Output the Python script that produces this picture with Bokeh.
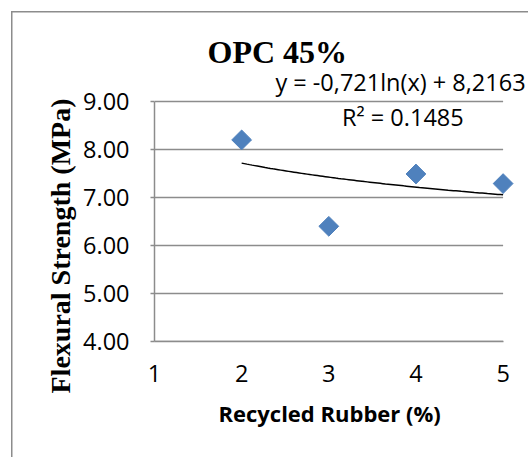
import math
from bokeh.plotting import figure
from bokeh.models import (ColumnDataSource, Label, FixedTicker, NumeralTickFormatter, Title)
from bokeh.embed import file_html
from bokeh.resources import INLINE

# Flexural strength of OPC 45% mixes against recycled rubber content
rubber_pct = [2, 3, 4, 5]
flexural_mpa = [8.20, 6.40, 7.49, 7.29]

# Logarithmic trendline y = a*ln(x) + b
trend_a = -0.721
trend_b = 8.2163
r_squared = 0.1485

x_ticks = [1, 2, 3, 4, 5]
y_ticks = [4, 5, 6, 7, 8, 9]

title_text = "OPC 45%"
x_title = "Recycled Rubber (%)"
y_title = "Flexural Strength (MPa)"
eq_text = "y = -0,721ln(x) + 8,2163"
r2_text = "R\u00b2 = " + f"{r_squared:.4f}"

GRID = "#8c8c8c"
BLUE = "#4f81bd"
SANS = "Open Sans"
SERIF = "Liberation Serif"

W, H = 528, 457
FL, FB = 154, 341          # frame left / bottom in pixels
PPX, PPY = 87.25, 48.0     # pixels per data unit

x0, x1 = x_ticks[0], x_ticks[-1]
y0, y1 = y_ticks[0], y_ticks[-1]
# extra room right of / above the axes for the last marker and the trendline label
x_pad, y_pad = 0.28, 0.646

right_border = max(0, round(W - (FL + (x1 + x_pad - x0) * PPX)))
top_border = round(FB - (y1 + y_pad - y0) * PPY)

p = figure(width=W, height=H, output_backend="svg", toolbar_location=None,
           title=None,
           x_range=(x0, x1 + x_pad), y_range=(y0, y1 + y_pad),
           min_border_left=FL, min_border_right=right_border,
           min_border_top=top_border, min_border_bottom=H - FB)
p.outline_line_color = None
p.background_fill_color = None
p.border_fill_color = None
# chart-area border: only its left and top edges fall inside the page
p.styles = {
    "background": ("linear-gradient(#8c8c8c,#8c8c8c) 11px 11px / 1.5px 100% no-repeat, "
                   "linear-gradient(#8c8c8c,#8c8c8c) 11px 11px / 100% 1.5px no-repeat, white"),
}

# axes
p.xaxis.ticker = FixedTicker(ticks=x_ticks)
p.yaxis.ticker = FixedTicker(ticks=y_ticks)
p.yaxis.formatter = NumeralTickFormatter(format="0.00")
p.xaxis.bounds = (x0, x1)
p.yaxis.bounds = (y0, y1)
for ax in (p.xaxis[0], p.yaxis[0]):
    ax.axis_line_color = GRID
    ax.axis_line_width = 1.5
    ax.major_tick_line_color = GRID
    ax.major_tick_line_width = 1.5
    ax.minor_tick_line_color = None
    ax.major_label_text_font = SANS
    ax.major_label_text_font_size = "23.5px"
    ax.major_label_text_color = "black"
p.xaxis.major_tick_out = 0
p.xaxis.major_tick_in = 0
p.xaxis.major_label_standoff = 23
p.yaxis.major_tick_out = 4
p.yaxis.major_tick_in = 0
p.yaxis.major_label_standoff = 21

# horizontal grid lines across the x span only
p.xgrid.grid_line_color = None
p.ygrid.grid_line_color = None
p.segment(x0=[x0] * len(y_ticks), x1=[x1] * len(y_ticks), y0=y_ticks, y1=y_ticks,
          line_color=GRID, line_width=1.5)

# trendline over the data span
tx = [rubber_pct[0] + i * (rubber_pct[-1] - rubber_pct[0]) / 100 for i in range(101)]
ty = [trend_a * math.log(v) + trend_b for v in tx]
p.line(tx, ty, line_color="black", line_width=1.5)

src = ColumnDataSource(data=dict(x=rubber_pct, y=flexural_mpa))
p.scatter("x", "y", source=src, marker="square", angle=math.pi / 4, size=14,
          fill_color=BLUE, line_color=BLUE)

# trendline equation and R² in two lines at the upper right
p.add_layout(Label(x=2.387, y=9.40, text=eq_text, text_align="left",
                   text_baseline="alphabetic", text_font=SANS,
                   text_font_size="23.5px", text_color="black"))
p.add_layout(Label(x=3.85, y=8.68, text=r2_text, text_align="center",
                   text_baseline="middle", text_font=SANS,
                   text_font_size="23.5px", text_color="black"))

main_title = Title(text=title_text, align="left", offset=53, standoff=1,
                   text_font=SERIF, text_font_style="bold", text_font_size="32px",
                   text_color="black")
p.add_layout(main_title, "above")

# axis titles
x_lab = Title(text=x_title, align="left", offset=64, standoff=22,
              text_font=SANS, text_font_style="bold", text_font_size="22px",
              text_color="black")
p.add_layout(x_lab, "below")

y_lab = Title(text=y_title, align="left", offset=-52, standoff=9,
              text_font=SERIF, text_font_style="bold", text_font_size="28px",
              text_color="black")
p.add_layout(y_lab, "left")

open("out.html", "w").write(file_html(p, INLINE))
